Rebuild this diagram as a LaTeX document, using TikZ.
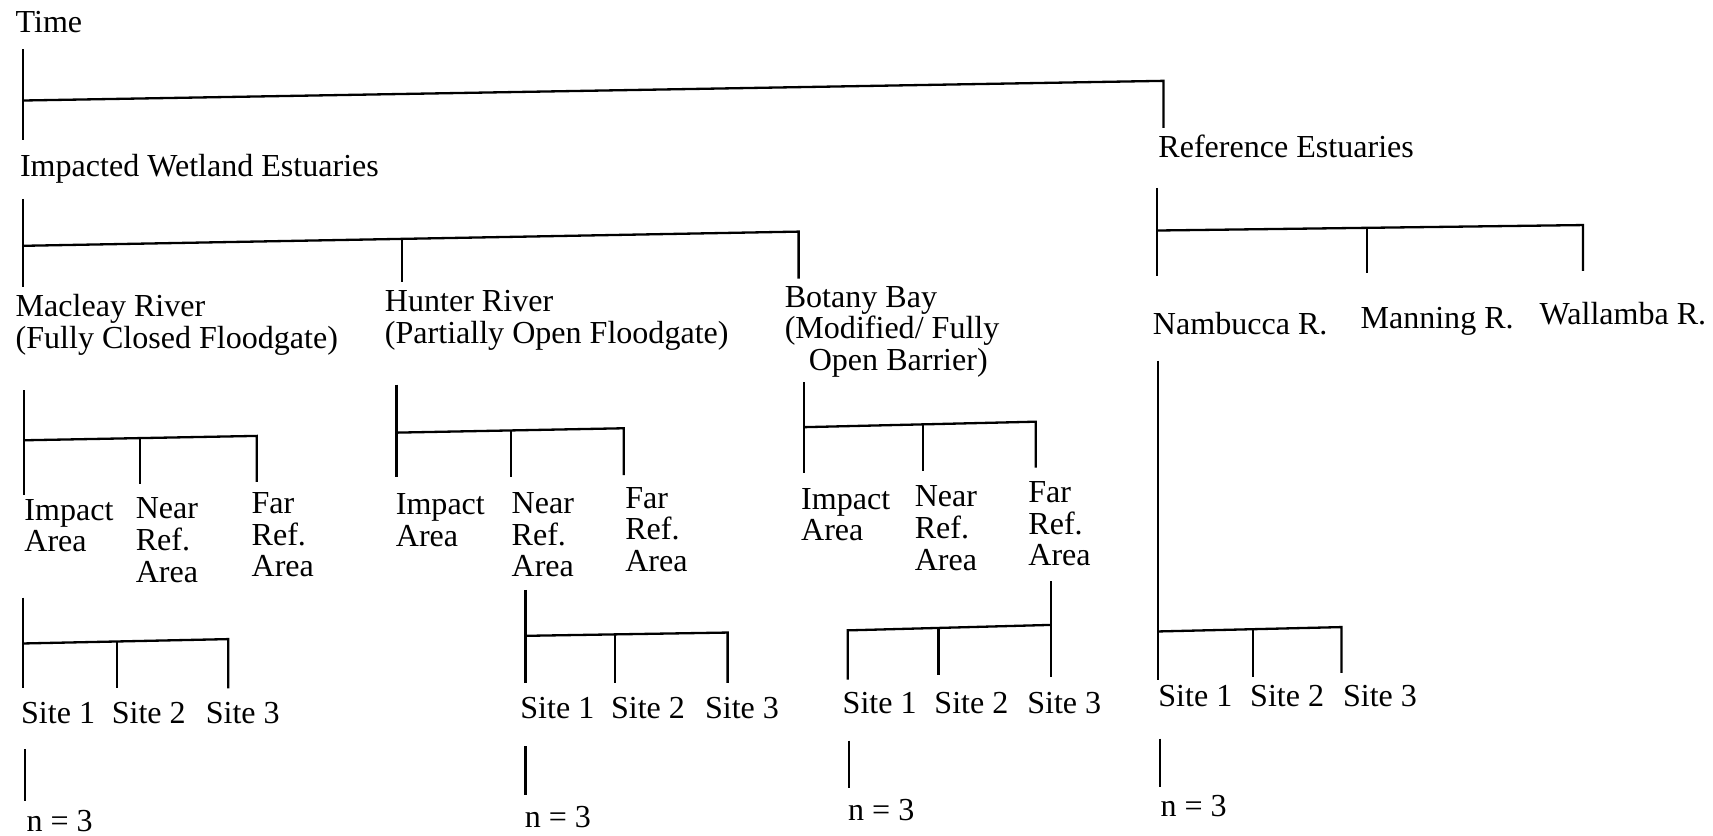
\documentclass[tikz,border=0pt]{standalone}
\usepackage{fontspec}
\setmainfont{Liberation Serif}
\tikzset{
  lbl/.style={anchor=base west, inner sep=0pt, align=left, font=\fontsize{16.7}{16.5}\selectfont},
  ln/.style={line width=1.2pt}
}
\begin{document}
\begin{tikzpicture}[x=0.02cm,y=-0.02cm]
\useasboundingbox (0,0) rectangle (1568,765);
% ---------- level 0
\node[lbl] (time) at (14,30) {Time};
\coordinate (t0) at (21,45); \coordinate (t1) at (21,128);
\coordinate (tj) at (21,92); \coordinate (tr) at (1065,74); \coordinate (tr2) at (1065,117);
\draw[ln] (t0) -- (t1);
\draw[ln] (tj) -- (tr) -- (tr2);
% ---------- level 1
\node[lbl] (imp) at (18,162) {Impacted Wetland Estuaries};
\node[lbl] (ref) at (1060,144) {Reference Estuaries};
% impacted branch
\coordinate (i0) at (21,182); \coordinate (i1) at (21,263);
\coordinate (ij) at (21,225); \coordinate (ir) at (731,212); \coordinate (ir2) at (731,255);
\coordinate (ih0) at (368,218.6); \coordinate (ih1) at (368,258);
\draw[ln] (i0) -- (i1);
\draw[ln] (ij) -- (ir) -- (ir2);
\draw[ln] (ih0) -- (ih1);
% reference branch
\coordinate (r0) at (1059,172); \coordinate (r1) at (1059,253);
\coordinate (rj) at (1059,211); \coordinate (rr) at (1449,206); \coordinate (rr2) at (1449,248);
\coordinate (rm0) at (1251,208.5); \coordinate (rm1) at (1251,250);
\draw[ln] (r0) -- (r1);
\draw[ln] (rj) -- (rr) -- (rr2);
\draw[ln] (rm0) -- (rm1);
% ---------- level 2 labels (base anchor = last line)
\node[lbl] (mac) at (14,319) {Macleay River\\(Fully Closed Floodgate)};
\node[lbl] (hun) at (352,314) {Hunter River\\(Partially Open Floodgate)};
\node[lbl] (bot) at (718,339) {Botany Bay\\(Modified/ Fully\\\hspace*{0.44cm}Open Barrier)};
\node[lbl] (nam) at (1055,306) {Nambucca R.};
\node[lbl] (man) at (1245,301) {Manning R.};
\node[lbl] (wal) at (1409,297) {Wallamba R.};
% ---------- Macleay sub-tree
\coordinate (m0) at (22,357); \coordinate (m1) at (22,453);
\coordinate (mj) at (22,403); \coordinate (mr) at (235,399); \coordinate (mr2) at (235,441);
\coordinate (mn0) at (128,401); \coordinate (mn1) at (128,443);
\draw[ln] (m0) -- (m1);
\draw[ln] (mj) -- (mr) -- (mr2);
\draw[ln] (mn0) -- (mn1);
\node[lbl] (mimp) at (22,505) {Impact\\Area};
\node[lbl] (mnear) at (124,533) {Near\\Ref.\\Area};
\node[lbl] (mfar) at (230,528) {Far\\Ref.\\Area};
\coordinate (ms0) at (21,547); \coordinate (ms1) at (21,630);
\coordinate (msj) at (21,589); \coordinate (msr) at (209,585); \coordinate (msr2) at (209,630);
\coordinate (ms20) at (107,587); \coordinate (ms21) at (107,630);
\draw[ln] (ms0) -- (ms1);
\draw[ln] (msj) -- (msr) -- (msr2);
\draw[ln] (ms20) -- (ms21);
\node[lbl] (msa) at (19,662) {Site 1};
\node[lbl] (msb) at (102,662) {Site 2};
\node[lbl] (msc) at (188,662) {Site 3};
\coordinate (mn3a) at (23,686); \coordinate (mn3b) at (23,733);
\draw[ln] (mn3a) -- (mn3b);
\node[lbl] (mn) at (24,761) {n = 3};
% ---------- Hunter sub-tree
\coordinate (h0) at (363,352); \coordinate (h1) at (363,437);
\coordinate (hj) at (363,396); \coordinate (hr) at (571,392); \coordinate (hr2) at (571,435);
\coordinate (hn0) at (468,394); \coordinate (hn1) at (468,437);
\draw[ln] (h0) -- (h1);
\draw[ln] (hj) -- (hr) -- (hr2);
\draw[ln] (hn0) -- (hn1);
\node[lbl] (himp) at (362,500) {Impact\\Area};
\node[lbl] (hnear) at (468,528) {Near\\Ref.\\Area};
\node[lbl] (hfar) at (572,523) {Far\\Ref.\\Area};
\coordinate (hs0) at (481,540); \coordinate (hs1) at (481,625);
\coordinate (hsj) at (481,582); \coordinate (hsr) at (666,579); \coordinate (hsr2) at (666,625);
\coordinate (hs20) at (563,580); \coordinate (hs21) at (563,625);
\draw[ln] (hs0) -- (hs1);
\draw[ln] (hsj) -- (hsr) -- (hsr2);
\draw[ln] (hs20) -- (hs21);
\node[lbl] (hsa) at (476,658) {Site 1};
\node[lbl] (hsb) at (559,658) {Site 2};
\node[lbl] (hsc) at (645,658) {Site 3};
\coordinate (hn3a) at (481,683); \coordinate (hn3b) at (481,728);
\draw[ln] (hn3a) -- (hn3b);
\node[lbl] (hn) at (480,757) {n = 3};
% ---------- Botany sub-tree
\coordinate (b0) at (736,350); \coordinate (b1) at (736,433);
\coordinate (bj) at (736,391); \coordinate (br) at (948,386); \coordinate (br2) at (948,428);
\coordinate (bn0) at (845,388); \coordinate (bn1) at (845,431);
\draw[ln] (b0) -- (b1);
\draw[ln] (bj) -- (br) -- (br2);
\draw[ln] (bn0) -- (bn1);
\node[lbl] (bimp) at (733,495) {Impact\\Area};
\node[lbl] (bnear) at (837,522) {Near\\Ref.\\Area};
\node[lbl] (bfar) at (941,518) {Far\\Ref.\\Area};
\coordinate (bs0) at (962,532); \coordinate (bs1) at (962,620);
\coordinate (bsj) at (962,572); \coordinate (bsl) at (776,577); \coordinate (bsl2) at (776,622);
\coordinate (bs20) at (859,575); \coordinate (bs21) at (859,618);
\draw[ln] (bs0) -- (bs1);
\draw[ln] (bsj) -- (bsl) -- (bsl2);
\draw[ln] (bs20) -- (bs21);
\node[lbl] (bsa) at (771,653) {Site 1};
\node[lbl] (bsb) at (855,653) {Site 2};
\node[lbl] (bsc) at (940,653) {Site 3};
\coordinate (bn3a) at (777,678); \coordinate (bn3b) at (777,721);
\draw[ln] (bn3a) -- (bn3b);
\node[lbl] (bn) at (776,751) {n = 3};
% ---------- Nambucca sub-tree
\coordinate (n0) at (1060,330); \coordinate (n1) at (1060,622);
\coordinate (nj) at (1060,578); \coordinate (nr) at (1228,574); \coordinate (nr2) at (1228,616);
\coordinate (ns20) at (1147,576); \coordinate (ns21) at (1147,620);
\draw[ln] (n0) -- (n1);
\draw[ln] (nj) -- (nr) -- (nr2);
\draw[ln] (ns20) -- (ns21);
\node[lbl] (nsa) at (1060,647) {Site 1};
\node[lbl] (nsb) at (1144,647) {Site 2};
\node[lbl] (nsc) at (1229,647) {Site 3};
\coordinate (nn3a) at (1062,676); \coordinate (nn3b) at (1062,720);
\draw[ln] (nn3a) -- (nn3b);
\node[lbl] (nn) at (1062,747) {n = 3};
\end{tikzpicture}
\end{document}
